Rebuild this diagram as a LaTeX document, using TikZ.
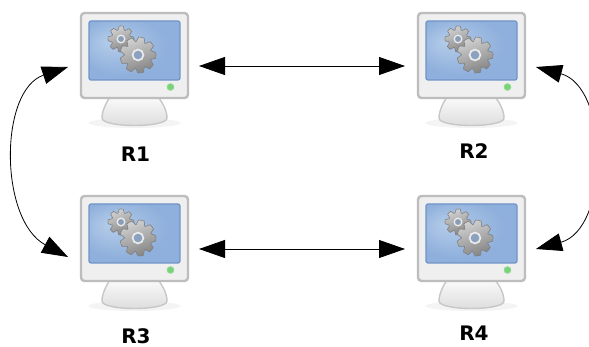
\documentclass[tikz,border=0pt]{standalone}
\usepackage{fontspec}
\setmainfont{DejaVu Sans}
\usetikzlibrary{arrows.meta,calc}
\definecolor{bodyfill}{HTML}{EFEFEF}
\definecolor{bodyline}{HTML}{BDBDBD}
\definecolor{scrline}{HTML}{6F94C6}
\definecolor{scrmid}{HTML}{8FB0DC}
\definecolor{scrlight}{HTML}{B4CCE9}
\definecolor{gearline}{HTML}{808080}
\pgfdeclareradialshading{scrshade}{\pgfpoint{-14bp}{8bp}}{%
  color(0bp)=(scrlight); color(25bp)=(scrmid); color(50bp)=(scrmid)}
\newcommand{\mygear}[5]{% x y rout rin teeth
  \path[draw=gearline,line width=.6pt,top color=black!18,bottom color=black!48,shading angle=20]
    (#1,#2) ++(0:#3)
    \foreach \k in {1,...,#5} {
      -- ($(#1,#2)+({(\k-1)*360/#5+10}:#3)$)
      -- ($(#1,#2)+({(\k-1)*360/#5+20}:#4)$)
      -- ($(#1,#2)+({(\k-1)*360/#5+360/#5-18}:#4)$)
      -- ($(#1,#2)+({(\k-1)*360/#5+360/#5-8}:#3)$)
      -- ($(#1,#2)+({\k*360/#5}:#3)$)
    } -- cycle;
}
\tikzset{
  link/.style={draw=black,line width=.8pt,{Triangle[length=26pt,width=18pt]}-{Triangle[length=26pt,width=18pt]}},
  lbl/.style={font=\bfseries\fontsize{20}{20}\selectfont,text=black,inner sep=0pt},
  computer/.pic={
    \fill[black!8,opacity=.5] (53.5,110) ellipse [x radius=46,y radius=5];
    \draw[black!22,line width=1.4pt,top color=black!2,bottom color=black!14]
      (29,84) .. controls (25,90) and (21,98) .. (21,105)
      .. controls (21,115) and (86,115) .. (86,105)
      .. controls (86,98) and (82,90) .. (77,84) -- cycle;
    \draw[bodyline,line width=2.4pt,fill=bodyfill,rounded corners=3.5pt] (0,0) rectangle (107,85);
    \draw[scrline,line width=1.2pt,shading=scrshade,rounded corners=2pt] (8,8) rectangle (99,67);
    \mygear{40}{26}{13}{9.5}{8}
    \fill[scrmid!60!gray,draw=black!8,line width=1.3pt] (40,26) circle (3.8);
    \mygear{57}{42}{18}{13.5}{9}
    \fill[scrmid!70!gray,draw=black!8,line width=1.7pt] (57,42) circle (5.4);
    \fill[green!45!gray!60!white] (89.5,74) circle (3.8);
    \fill[green!70!black!55!white] (89.5,74) circle (2.6);
    \coordinate (-l) at (-13,53);
    \coordinate (-r) at (118,53);
  }
}
\begin{document}
\begin{tikzpicture}[x=1pt,y=-1pt]
\clip (0,0) rectangle (589,347);
\path[fill=white] (0,0) rectangle (589,347);
\pic (m1) at (81,13) {computer};
\pic (m2) at (418,13) {computer};
\pic (m3) at (81,196) {computer};
\pic (m4) at (418,196) {computer};
\node[lbl] (l1) at (135.5,154) {R1};
\node[lbl] (l2) at (474,151) {R2};
\node[lbl] (l3) at (136,336) {R3};
\node[lbl] (l4) at (474,333) {R4};
\draw[link] (m1-r) -- (m2-l);
\draw[link] (m3-r) -- (m4-l);
\draw[link] ([yshift=-1pt]m1-l) .. controls ($(m1-l)+(-69,24)$) and ($(m3-l)+(-69,-29)$) .. ([yshift=-8pt]m3-l);
\draw[link] ([yshift=-1pt]m2-r) .. controls ($(m2-r)+(74,21)$) and ($(m4-r)+(74,-20)$) .. (m4-r);
\end{tikzpicture}
\end{document}
